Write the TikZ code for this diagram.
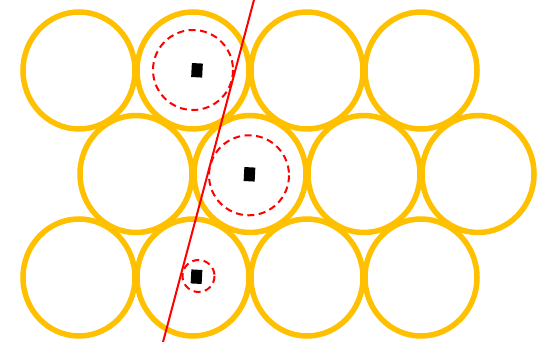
\documentclass[tikz,border=0pt]{standalone}
\definecolor{gold}{HTML}{FFC000}
\definecolor{redline}{HTML}{FF0000}
\begin{document}
\begin{tikzpicture}[x=1pt,y=-1pt,
  cell/.style={draw=gold,line width=5.5pt},
  zone/.style={draw=redline,line width=2pt,dash pattern=on 7pt off 4.5pt},
  cut/.style={draw=redline,line width=2pt},
  blob/.style={fill=black,minimum width=11pt,minimum height=14pt,inner sep=0pt,rotate=-3}]
\useasboundingbox (0,0) rectangle (538,342);
% row 1
\foreach \x in {79,193,307,421} \draw[cell] (\x,70.5) ellipse [x radius=56,y radius=58.5];
% row 2
\foreach \x in {136,250,364,478} \draw[cell] (\x,174) ellipse [x radius=56,y radius=58.5];
% row 3
\foreach \x in {79,193,307,421} \draw[cell] (\x,277.5) ellipse [x radius=56,y radius=58.5];
% dashed zones
\draw[zone] (193,70) circle [radius=40];
\draw[zone] (249,175.3) circle [radius=40];
\draw[zone] (198.5,276) circle [radius=16];
% cutting line
\coordinate (ltop) at (254.5,-2);
\coordinate (lbot) at (162.5,344);
\draw[cut] (ltop) -- (lbot);
% black squares
\node[blob] (b1) at (197,70.3) {};
\node[blob] (b2) at (249.5,174.3) {};
\node[blob] (b3) at (196.5,276.7) {};
\end{tikzpicture}
\end{document}
